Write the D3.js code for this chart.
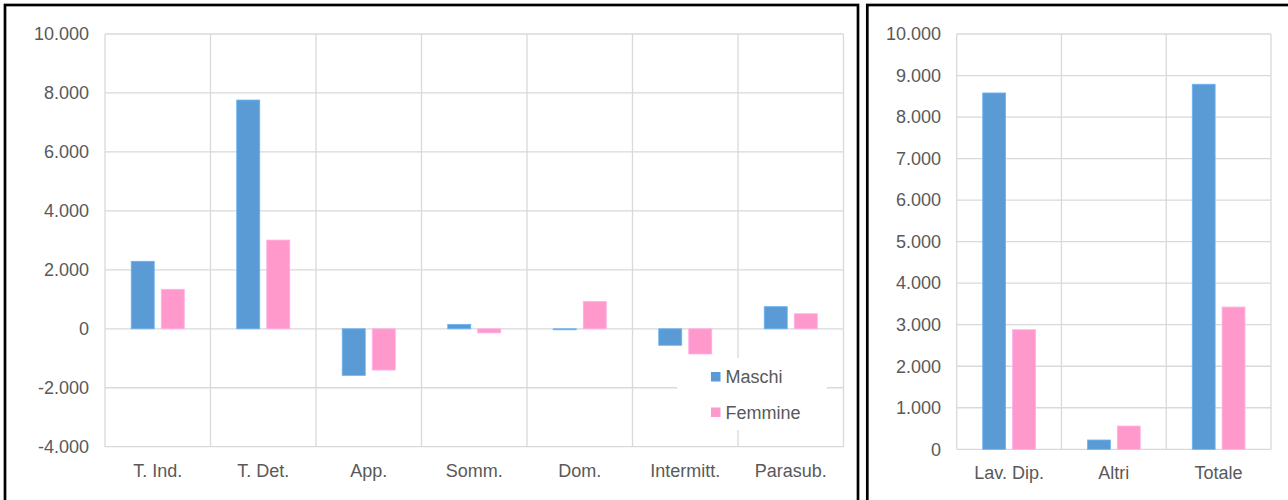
<!DOCTYPE html>
<html>
<head>
<meta charset="utf-8">
<script src="https://cdn.jsdelivr.net/npm/d3@7"></script>
<style>
  html, body { margin: 0; padding: 0; background: #ffffff; }
  svg { display: block; font-family: "Liberation Sans", Arial, sans-serif; }
</style>
</head>
<body>
<svg id="chart" width="1288" height="500"></svg>
<script>
// ---------- DATA ----------
const series = ["Maschi", "Femmine"];
const colors = ["#5B9BD5", "#FF99CC"];

const leftCategories = ["T. Ind.", "T. Det.", "App.", "Somm.", "Dom.", "Intermitt.", "Parasub."];
const leftMaschi  = [2290, 7760, -1580, 150, -25, -560, 750];
const leftFemmine = [1340, 3010, -1400, -140, 930, -855, 510];
const leftTicks = [-4000, -2000, 0, 2000, 4000, 6000, 8000, 10000];

const rightCategories = ["Lav. Dip.", "Altri", "Totale"];
const rightMaschi  = [8580, 224, 8790];
const rightFemmine = [2880, 560, 3425];
const rightTicks = [0, 1000, 2000, 3000, 4000, 5000, 6000, 7000, 8000, 9000, 10000];

// ---------- SETUP ----------
const svg = d3.select("#chart");
const locale = d3.formatLocale({ decimal: ",", thousands: ".", grouping: [3], currency: ["€", ""], minus: "-" });
const fmt = locale.format(",d");
const textColor = "#595959";
const gridColor = "#D9D9D9";

// panel borders
svg.append("rect").attr("x", 5).attr("y", 5).attr("width", 853).attr("height", 520)
  .attr("fill", "none").attr("stroke", "#000").attr("stroke-width", 2.7);
svg.append("rect").attr("x", 867.3).attr("y", 5).attr("width", 440).attr("height", 520)
  .attr("fill", "none").attr("stroke", "#000").attr("stroke-width", 2.7);

function drawChart(opts) {
  const { categories, maschi, femmine, ticks, x0, x1, yTop, yBot, domain, labelPad, yPad } = opts;
  const g = svg.append("g");
  const x = d3.scaleBand().domain(categories).range([x0, x1]).padding(0);
  const y = d3.scaleLinear().domain(domain).range([yBot, yTop]);
  const bw = x.bandwidth();
  const xs = d3.scaleBand().domain(series).range([bw * 0.2485, bw * 0.7515]).paddingInner(7 / 30);

  // horizontal gridlines
  g.append("g").selectAll("line").data(ticks).join("line")
    .attr("x1", x0).attr("x2", x1)
    .attr("y1", d => y(d)).attr("y2", d => y(d))
    .attr("stroke", gridColor).attr("stroke-width", 1.3);
  // vertical gridlines (category boundaries)
  const bounds = categories.map(c => x(c)).concat([x1]);
  g.append("g").selectAll("line").data(bounds).join("line")
    .attr("x1", d => d).attr("x2", d => d)
    .attr("y1", yTop).attr("y2", yBot)
    .attr("stroke", gridColor).attr("stroke-width", 1.3);

  // bars
  const rows = categories.map((c, i) => ({ c, vals: [maschi[i], femmine[i]] }));
  const grp = g.append("g").selectAll("g").data(rows).join("g")
    .attr("transform", d => `translate(${x(d.c)},0)`);
  grp.selectAll("rect").data(d => d.vals.map((v, j) => ({ s: series[j], v, j }))).join("rect")
    .attr("x", d => xs(d.s))
    .attr("width", xs.bandwidth())
    .attr("y", d => y(Math.max(0, d.v)))
    .attr("height", d => Math.max(1, Math.abs(y(d.v) - y(0))))
    .attr("fill", d => colors[d.j])
    .attr("stroke", d => d3.color(colors[d.j]).brighter(0.4))
    .attr("stroke-width", 0.8);

  // y axis labels
  const ya = d3.axisLeft(y).tickValues(ticks).tickSize(0).tickPadding(yPad).tickFormat(fmt);
  const yg = g.append("g").attr("transform", `translate(${x0},0)`).call(ya);
  yg.select(".domain").remove();
  yg.selectAll("text").attr("fill", textColor).style("font-size", "18px")
    .style("font-family", '"Liberation Sans", Arial, sans-serif');

  // x axis labels
  const xa = d3.axisBottom(x).tickSize(0).tickPadding(labelPad);
  const xg = g.append("g").attr("transform", `translate(0,${yBot})`).call(xa);
  xg.select(".domain").remove();
  xg.selectAll("text").attr("fill", textColor).style("font-size", "18px")
    .style("font-family", '"Liberation Sans", Arial, sans-serif');
  return g;
}

drawChart({
  categories: leftCategories, maschi: leftMaschi, femmine: leftFemmine, ticks: leftTicks,
  x0: 105, x1: 843.5, yTop: 34, yBot: 446.7, domain: [-4000, 10000], labelPad: 17.5, yPad: 16
});
drawChart({
  categories: rightCategories, maschi: rightMaschi, femmine: rightFemmine, ticks: rightTicks,
  x0: 956.7, x1: 1271, yTop: 34, yBot: 449.3, domain: [0, 10000], labelPad: 17, yPad: 15.7
});

// legend (left chart)
const lg = svg.append("g");
lg.append("rect").attr("x", 677).attr("y", 358).attr("width", 150).attr("height", 72).attr("fill", "#fff");
const items = lg.selectAll("g.item").data(series).join("g").attr("class", "item")
  .attr("transform", (d, i) => `translate(711,${372 + i * 35.5})`);
items.append("rect").attr("width", 9.5).attr("height", 9.5).attr("fill", (d, i) => colors[i]);
items.append("text").attr("x", 14.5).attr("y", 11).text(d => d)
  .attr("fill", textColor).style("font-size", "18px");
</script>
</body>
</html>
